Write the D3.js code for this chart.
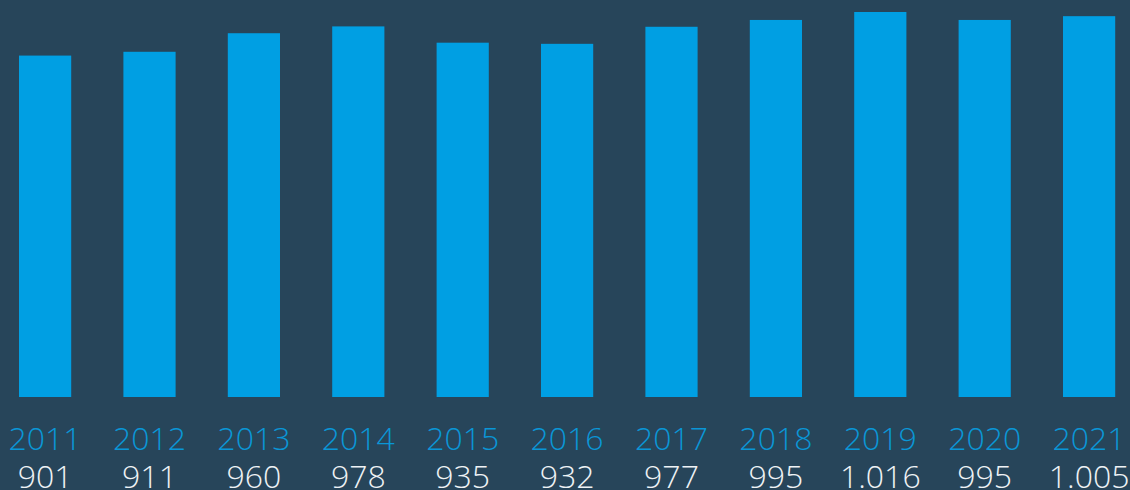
<!DOCTYPE html>
<html>
<head>
<meta charset="utf-8">
<script src="https://cdn.jsdelivr.net/npm/d3@7"></script>
<style>
    html, body { margin: 0; padding: 0; background: #27455a; overflow: hidden; }
    svg { display: block; }
</style>
</head>
<body>
<svg id="chart" width="1130" height="490"></svg>
<script>
    var years = ["2011", "2012", "2013", "2014", "2015", "2016", "2017", "2018", "2019", "2020", "2021"];
    var values = [901, 911, 960, 978, 935, 932, 977, 995, 1016, 995, 1005];

    var font = "'Open Sans', sans-serif";
    var width = 1130, height = 490;

    // german style thousands separator
    var de = d3.formatLocale({ decimal: ",", thousands: ".", grouping: [3], currency: ["", " €"] });
    var fmt = de.format(",d");

    var svg = d3.select("#chart");

    svg.append("rect")
        .attr("width", width)
        .attr("height", height)
        .attr("fill", "#27455a");

    var x = d3.scaleBand()
        .domain(years)
        .range([-7.1, 1141.3])
        .paddingInner(0.5)
        .paddingOuter(0.25);

    var y = d3.scaleLinear()
        .domain([0, 1016])
        .range([397, 12]);

    svg.selectAll("rect.bar")
        .data(years)
        .enter()
        .append("rect")
        .attr("class", "bar")
        .attr("x", function (d) { return x(d); })
        .attr("y", function (d, i) { return y(values[i]); })
        .attr("width", x.bandwidth())
        .attr("height", function (d, i) { return y(0) - y(values[i]); })
        .attr("fill", "#009fe3");

    svg.selectAll("text.year")
        .data(years)
        .enter()
        .append("text")
        .attr("class", "year")
        .attr("x", function (d) { return x(d) + x.bandwidth() / 2; })
        .attr("y", 450)
        .attr("text-anchor", "middle")
        .attr("font-family", font)
        .attr("font-weight", 300)
        .attr("font-size", "32px")
        .attr("fill", "#0a96d6")
        .text(function (d) { return d; });

    svg.selectAll("text.value")
        .data(values)
        .enter()
        .append("text")
        .attr("class", "value")
        .attr("x", function (d, i) { return x(years[i]) + x.bandwidth() / 2; })
        .attr("y", 488)
        .attr("text-anchor", "middle")
        .attr("font-family", font)
        .attr("font-weight", 300)
        .attr("font-size", "32px")
        .attr("fill", "#eef2f5")
        .text(function (d) { return fmt(d); });
</script>
</body>
</html>
